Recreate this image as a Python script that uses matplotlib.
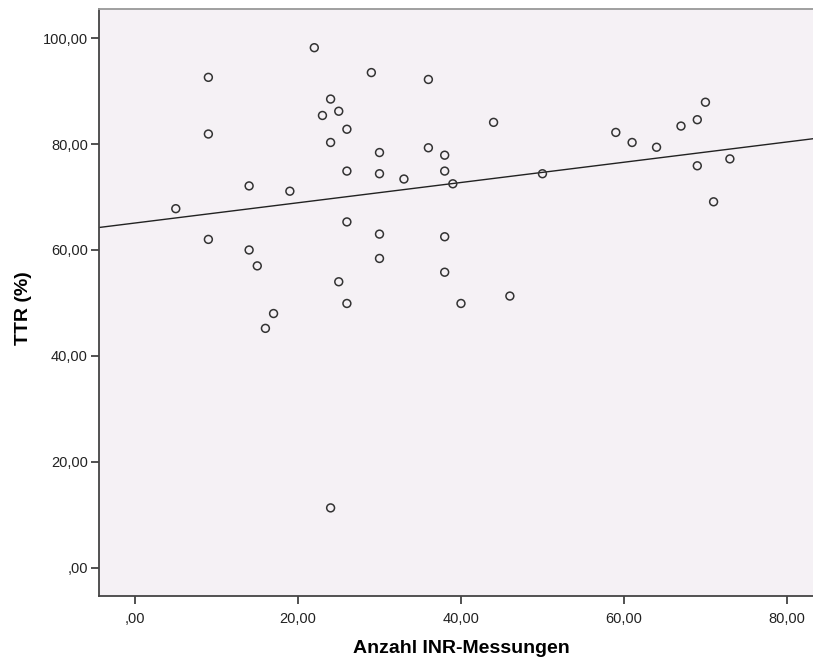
import numpy as np
import matplotlib.pyplot as plt
from matplotlib.ticker import FuncFormatter

plt.rcParams['font.family'] = ['Liberation Sans', 'DejaVu Sans']

# Anzahl INR-Messungen vs. TTR (%)
anzahl_inr = [5, 9, 9, 9, 14, 19, 14, 15, 17, 16,
              22, 29, 36, 24, 23, 25, 26, 24, 30, 36,
              38, 44, 26, 30, 33, 38, 39, 50, 26, 30,
              38, 30, 38, 25, 26, 40, 46,
              70, 69, 67, 59, 61, 64, 69, 73, 71,
              24]
ttr = [67.8, 92.6, 81.9, 62.0, 72.1, 71.1, 60.0, 57.0, 48.0, 45.2,
       98.2, 93.5, 92.2, 88.5, 85.4, 86.2, 82.8, 80.3, 78.4, 79.3,
       77.9, 84.1, 74.9, 74.4, 73.4, 74.9, 72.5, 74.4, 65.3, 63.0,
       62.5, 58.4, 55.8, 54.0, 49.9, 49.9, 51.3,
       87.9, 84.6, 83.4, 82.2, 80.3, 79.4, 75.9, 77.2, 69.1,
       11.3]

x = np.array(anzahl_inr, dtype=float)
y = np.array(ttr, dtype=float)

fig = plt.figure(figsize=(8.13, 6.59), dpi=100)
ax = fig.add_axes([0.1218, 0.0951, 0.8782, 0.8912])
ax.set_facecolor('#f5f1f5')

ax.scatter(x, y, s=32, facecolors='none', edgecolors='#333333', linewidths=1.1, zorder=3)

# lineare Anpassung
xlim = (-4.42, 83.2)
m, b = np.polyfit(x, y, 1)
xs = np.array(xlim)
ax.plot(xs, m * xs + b, color='#222222', lw=1.0, zorder=2)

ax.set_xlim(*xlim)
ax.set_ylim(-5.4, 105.5)
ax.set_xticks([0, 20, 40, 60, 80])
ax.set_yticks([0, 20, 40, 60, 80, 100])

fmt = FuncFormatter(lambda v, p: ',00' if v == 0 else f'{v:.2f}'.replace('.', ','))
ax.xaxis.set_major_formatter(fmt)
ax.yaxis.set_major_formatter(fmt)
ax.tick_params(direction='out', length=6, width=1.2, color='#333333',
               labelsize=10.5, labelcolor='#222222')
ax.tick_params(axis='x', pad=5)
ax.tick_params(axis='y', pad=2)

for side in ['left', 'bottom']:
    ax.spines[side].set_color('#444444')
    ax.spines[side].set_linewidth(1.3)
ax.spines['top'].set_color('#999999')
ax.spines['top'].set_linewidth(1.3)
ax.spines['right'].set_visible(False)

ax.set_xlabel('Anzahl INR-Messungen', fontsize=14, fontweight='bold')
ax.set_ylabel('TTR (%)', fontsize=14, fontweight='bold')
ax.xaxis.set_label_coords(0.507, -0.074)
ax.yaxis.set_label_coords(-0.094, 0.49)

plt.savefig('out.png', dpi=100)
